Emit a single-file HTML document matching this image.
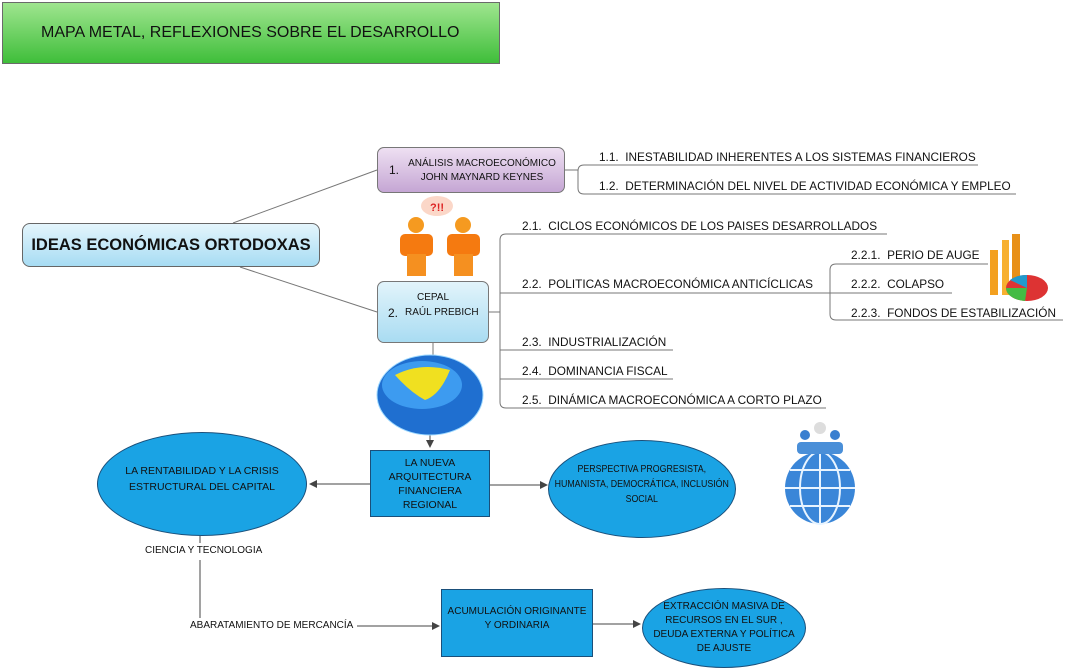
<!DOCTYPE html>
<html><head><meta charset="utf-8"><style>
body{margin:0;width:1065px;height:671px;background:#fff;position:relative;overflow:hidden;font-family:"Liberation Sans",sans-serif;}
.a{position:absolute;}
.t{position:absolute;font-size:11.8px;color:#111;white-space:nowrap;}
.c{display:flex;align-items:center;justify-content:center;text-align:center;white-space:nowrap;}
</style></head><body>
<div class="a c" style="left:2px;top:2px;width:498px;height:62px;border:1px solid #6a6a6a;background:linear-gradient(#9fe58f,#3fbe3a);font-size:16px;color:#111;justify-content:flex-start;padding-left:38px;box-sizing:border-box;">MAPA METAL, REFLEXIONES SOBRE EL DESARROLLO</div>

<svg class="a" style="left:0;top:0" width="1065" height="671">
<defs><marker id="ar" markerWidth="8" markerHeight="8" refX="7" refY="4" orient="auto"><path d="M0,0 L8,4 L0,8z" fill="#444"/></marker></defs>
<g stroke="#777" fill="none" stroke-width="1">
<line x1="233" y1="223" x2="377" y2="170"/>
<line x1="240" y1="267" x2="377" y2="312"/>
<path d="M565,170 H578 M978,165 H584 Q578,165 578,171 V188 Q578,194 584,194 H1016"/>
<path d="M489,312 H500 M887,234 H506 Q500,234 500,240 V402 Q500,408 506,408 H826 M500,293 H830 M500,350 H673 M500,379 H673"/>
<path d="M988,264 H836 Q830,264 830,270 V314 Q830,320 836,320 H1063 M830,293 H952"/>
<line x1="433" y1="343" x2="433" y2="357"/>
</g>
<g stroke="#444" fill="none" stroke-width="1">
<line x1="430" y1="435" x2="430" y2="447" marker-end="url(#ar)"/>
<line x1="370" y1="484" x2="310" y2="484" marker-end="url(#ar)"/>
<line x1="490" y1="485" x2="547" y2="485" marker-end="url(#ar)"/>
<line x1="200" y1="536" x2="200" y2="543"/>
<line x1="200" y1="560" x2="200" y2="618"/>
<line x1="357" y1="626" x2="439" y2="626" marker-end="url(#ar)"/>
<line x1="593" y1="624" x2="640" y2="624" marker-end="url(#ar)"/>
</g>
<ellipse cx="430" cy="395" rx="53" ry="40" fill="#1f6fd0"/>
<ellipse cx="422" cy="385" rx="40" ry="24" fill="#3d9bf0"/>
<path d="M395,375 Q420,362 450,370 Q440,395 425,400 Q410,392 395,375z" fill="#f0e020"/>
<ellipse cx="430" cy="395" rx="53" ry="40" fill="none" stroke="#9cd8ff" stroke-width="1"/>
<rect x="990" y="250" width="8" height="45" fill="#f3a020"/><rect x="1002" y="240" width="7" height="55" fill="#f7b030"/><rect x="1012" y="234" width="8" height="60" fill="#e89018"/>
<ellipse cx="1027" cy="288" rx="21" ry="13" fill="#d33"/><path d="M1027,288 L1006,288 A21,13 0 0 0 1025,301z" fill="#4b4"/><path d="M1027,288 L1010,280 A21,13 0 0 1 1027,275z" fill="#29c"/>
<ellipse cx="437" cy="206" rx="16" ry="10" fill="#fbd7c8"/><text x="437" y="211" font-size="11" font-weight="bold" fill="#d22" text-anchor="middle" font-family="Liberation Sans">?!!</text>
<circle cx="416" cy="225" r="8" fill="#f59a20"/><rect x="400" y="234" width="33" height="22" rx="5" fill="#f57a10"/><rect x="407" y="254" width="19" height="22" fill="#f59020"/>
<circle cx="463" cy="225" r="8" fill="#f59a20"/><rect x="447" y="234" width="33" height="22" rx="5" fill="#f57a10"/><rect x="454" y="254" width="19" height="22" fill="#f59020"/>
<ellipse cx="820" cy="488" rx="35" ry="36" fill="#3a86d8"/><path d="M785,488 H855 M820,452 V524 M790,470 H850 M790,506 H850" stroke="#e8f4ff" stroke-width="2"/><ellipse cx="820" cy="488" rx="20" ry="36" fill="none" stroke="#e8f4ff" stroke-width="2"/>
<circle cx="805" cy="435" r="5" fill="#3a7fd0"/><circle cx="835" cy="435" r="5" fill="#3a7fd0"/><circle cx="820" cy="428" r="6" fill="#ddd"/>
<rect x="797" y="442" width="46" height="12" rx="4" fill="#4a8fd8"/>
</svg>

<div class="a c" style="left:22px;top:223px;width:298px;height:44px;border:1px solid #666;border-radius:8px;background:linear-gradient(#e4f5fc,#a7dcf3);font-size:16.5px;font-weight:bold;color:#111;box-sizing:border-box;">IDEAS ECONÓMICAS ORTODOXAS</div>
<div class="a" style="left:377px;top:147px;width:188px;height:46px;border:1px solid #777;border-radius:7px;background:linear-gradient(#eee0f2,#c5a6d4);box-sizing:border-box;">
<span class="t" style="left:11px;top:15px;font-size:12px;">1.</span>
<div class="t" style="left:24px;top:9px;width:160px;text-align:center;line-height:14px;font-size:10px;">ANÁLISIS MACROECONÓMICO<br>JOHN MAYNARD KEYNES</div></div>
<div class="a" style="left:377px;top:281px;width:112px;height:62px;border:1px solid #777;border-radius:7px;background:linear-gradient(#e2f4fb,#a9dcf2);box-sizing:border-box;">
<div class="t" style="left:0;top:10px;width:110px;text-align:center;font-size:10px;">CEPAL</div>
<span class="t" style="left:10px;top:24px;font-size:12px;">2.</span><span class="t" style="left:27px;top:25px;font-size:10px;">RAÚL PREBICH</span></div>

<span class="t" style="left:599px;top:150px;">1.1.&nbsp; INESTABILIDAD INHERENTES A LOS SISTEMAS FINANCIEROS</span>
<span class="t" style="left:599px;top:179px;">1.2.&nbsp; DETERMINACIÓN DEL NIVEL DE ACTIVIDAD ECONÓMICA Y EMPLEO</span>
<span class="t" style="left:522px;top:219px;">2.1.&nbsp; CICLOS ECONÓMICOS DE LOS PAISES DESARROLLADOS</span>
<span class="t" style="left:522px;top:277px;">2.2.&nbsp; POLITICAS MACROECONÓMICA ANTICÍCLICAS</span>
<span class="t" style="left:522px;top:335px;">2.3.&nbsp; INDUSTRIALIZACIÓN</span>
<span class="t" style="left:522px;top:364px;">2.4.&nbsp; DOMINANCIA FISCAL</span>
<span class="t" style="left:522px;top:393px;">2.5.&nbsp; DINÁMICA MACROECONÓMICA A CORTO PLAZO</span>
<span class="t" style="left:851px;top:248px;">2.2.1.&nbsp; PERIO DE AUGE</span>
<span class="t" style="left:851px;top:277px;">2.2.2.&nbsp; COLAPSO</span>
<span class="t" style="left:851px;top:306px;">2.2.3.&nbsp; FONDOS DE ESTABILIZACIÓN</span>

<div class="a c" style="left:97px;top:432px;width:210px;height:104px;border-radius:50%;background:#1aa3e4;border:1px solid #1a4f7a;box-sizing:border-box;font-size:10.5px;line-height:16px;color:#111;padding-bottom:10px;">LA RENTABILIDAD Y LA CRISIS<br>ESTRUCTURAL DEL CAPITAL</div>
<div class="a c" style="left:370px;top:450px;width:120px;height:67px;background:#1aa3e4;border:1px solid #1a4f7a;box-sizing:border-box;font-size:10.5px;line-height:14px;color:#111;">LA NUEVA<br>ARQUITECTURA<br>FINANCIERA<br>REGIONAL</div>
<div class="a c" style="left:548px;top:440px;width:188px;height:98px;border-radius:50%;background:#1aa3e4;border:1px solid #1a4f7a;box-sizing:border-box;color:#111;padding-bottom:10px;"><div style="font-size:10.5px;line-height:15px;transform:scaleX(0.84);text-align:center;">PERSPECTIVA PROGRESISTA,<br>HUMANISTA, DEMOCRÁTICA, INCLUSIÓN<br>SOCIAL</div></div>
<span class="t" style="left:145px;top:545px;font-size:10px;">CIENCIA Y TECNOLOGIA</span>
<span class="t" style="left:190px;top:620px;font-size:10px;">ABARATAMIENTO DE MERCANCÍA</span>
<div class="a c" style="left:441px;top:589px;width:152px;height:68px;background:#1aa3e4;border:1px solid #1a4f7a;box-sizing:border-box;font-size:10px;line-height:14px;color:#111;padding-bottom:8px;">ACUMULACIÓN ORIGINANTE<br>Y ORDINARIA</div>
<div class="a c" style="left:642px;top:588px;width:164px;height:80px;border-radius:50%;background:#1aa3e4;border:1px solid #1a4f7a;box-sizing:border-box;font-size:10px;line-height:14px;color:#111;">EXTRACCIÓN MASIVA DE<br>RECURSOS EN EL SUR ,<br>DEUDA EXTERNA Y POLÍTICA<br>DE AJUSTE</div>
</body></html>
